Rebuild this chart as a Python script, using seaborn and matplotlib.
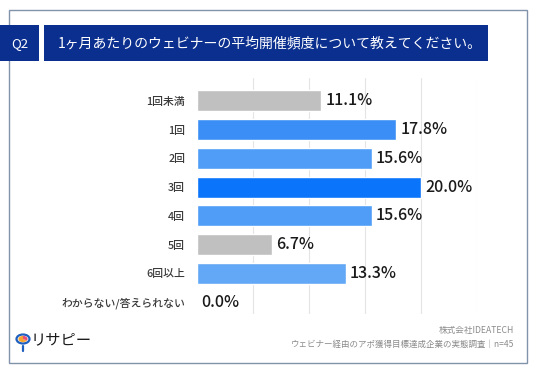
import pandas as pd
import seaborn as sns
import matplotlib.pyplot as plt
from matplotlib.patches import Rectangle, Circle, Wedge

# --- data ---
categories = ["1回未満", "1回", "2回", "3回", "4回", "5回", "6回以上", "わからない/答えられない"]
values = [11.1, 17.8, 15.6, 20.0, 15.6, 6.7, 13.3, 0.0]
bar_colors = ["#c0c0c0", "#3a8ef5", "#4f9df6", "#0a74fa", "#4f9df6", "#c0c0c0", "#63a8f6", "#c0c0c0"]
xticks = [5, 10, 15, 20, 25]

question_no = "Q2"
question = "1ヶ月あたりのウェビナーの平均開催頻度について教えてください。"
footer_company = "株式会社IDEATECH"
footer_survey = "ウェビナー経由のアポ獲得目標達成企業の実態調査｜n=45"
logo_text = "リサピー"

sns.set_theme(style="white")
plt.rcParams['font.family'] = ['Noto Sans CJK JP', 'DejaVu Sans']

W, H = 536, 371
fig = plt.figure(figsize=(W / 100, H / 100), dpi=100)
fig.patch.set_facecolor("white")

def px(x, y):
    # pixel coords (top-left origin) -> figure fraction
    return x / W, 1 - y / H

# outer frame
fig.patches.append(Rectangle(px(9, 363), (527 - 9) / W, (363 - 9.5) / H,
                             transform=fig.transFigure, fill=False,
                             edgecolor="#8193ab", linewidth=1.0))

# question header boxes
navy = "#0b2f8f"
fig.patches.append(Rectangle(px(0, 61), 39 / W, 36 / H, transform=fig.transFigure,
                             facecolor=navy, edgecolor="none"))
fig.patches.append(Rectangle(px(44, 61), (488 - 44) / W, 36 / H, transform=fig.transFigure,
                             facecolor=navy, edgecolor="none"))
fig.text(*px(19.5, 43.5), question_no, color="white", fontsize=9.5, ha="center", va="center")
fig.text(*px(58, 43.5), question, color="white", fontsize=10, ha="left", va="center")

# --- chart ---
df = pd.DataFrame({"category": categories, "value": values})
ax = fig.add_axes([197 / W, 1 - 313.5 / H, (476.7 - 197) / W, (313.5 - 78) / H])
sns.barplot(data=df, x="value", y="category", hue="category", palette=bar_colors,
            orient="h", width=0.73, legend=False, ax=ax, saturation=1)
ax.set_xlim(0, 25)
ax.set_ylim(7.4, -0.8)
ax.set_xticks(xticks)
ax.set_xticklabels([])
ax.grid(axis="x", color="#e4e4e4", linewidth=0.8)
ax.grid(axis="y", visible=False)
ax.set_axisbelow(True)
for s in ax.spines.values():
    s.set_visible(False)
ax.set_xlabel("")
ax.set_ylabel("")
ax.tick_params(axis="y", length=0, pad=8.5)
ax.tick_params(axis="x", length=0)
for lbl in ax.get_yticklabels():
    lbl.set_fontsize(7.8)
    lbl.set_color("#3a3a3a")
    lbl.set_fontweight("medium")

for i, v in enumerate(values):
    ax.annotate(f"{v:.1f}%", xy=(v, i), xytext=(3, 0), textcoords="offset points",
                ha="left", va="center", fontsize=11.5, color="#1a1a1a",
                fontweight="medium", clip_on=False)

# --- footer ---
fig.text(*px(514, 331), footer_company, fontsize=6.2, color="#8a8a8a", ha="right", va="center")
fig.text(*px(514, 344), footer_survey, fontsize=6.1, color="#8a8a8a", ha="right", va="center")

# logo
cx, cy = px(23, 339)
r = 6.5 / W
aspect = W / H
fig.patches.append(Circle((cx, cy), radius=r, transform=fig.transFigure,
                          facecolor="white", edgecolor="#1f5fbf", linewidth=1.6))
fig.patches.append(Wedge((cx, cy), r * 0.7, 90, 330, transform=fig.transFigure,
                         facecolor="#f7a531", edgecolor="none"))
fig.patches.append(Wedge((cx, cy), r * 0.7, 330, 450, transform=fig.transFigure,
                         facecolor="#e8507a", edgecolor="none"))
fig.lines.append(plt.Line2D([cx, cx], [cy - r * aspect, cy - r * aspect - 5 / H],
                            transform=fig.transFigure, color="#1f5fbf", linewidth=1.6))
fig.text(*px(31, 340), logo_text, fontsize=11, color="#1a1a1a", ha="left", va="center")

fig.savefig("out.png", dpi=100)
